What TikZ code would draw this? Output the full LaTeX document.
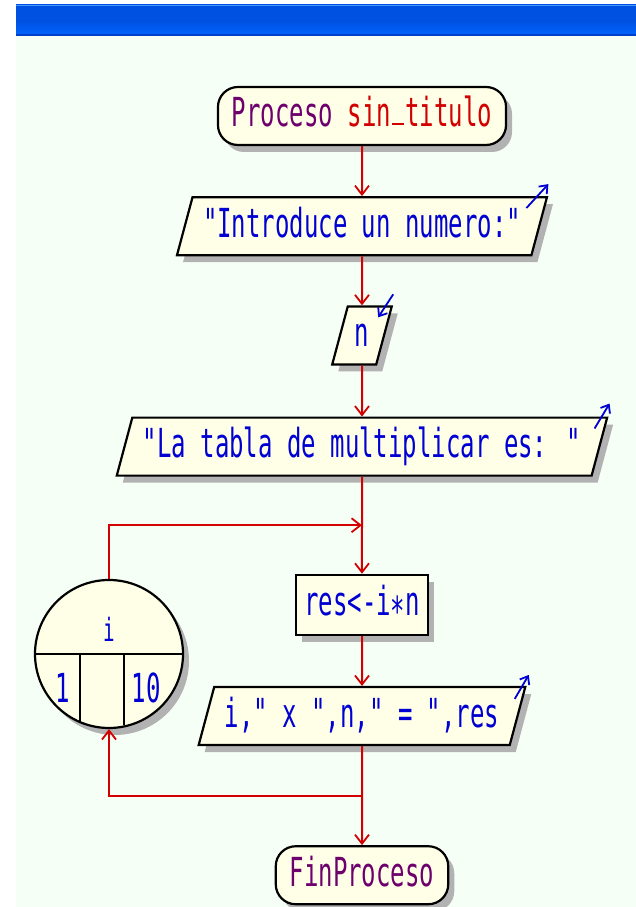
\documentclass[tikz,border=0pt]{standalone}
\usepackage{fontspec}
\usepackage{xcolor}
\usetikzlibrary{positioning, arrows.meta, shapes.geometric, shadows, calc}

\newfontfamily\flowfont[FakeStretch=0.6]{DejaVu Sans Mono}
\newcommand{\lowbar}{\hspace{1pt}\rule[1.5pt]{12pt}{2.5pt}\hspace{1.45pt}}

\definecolor{panelbg}{RGB}{246,255,246}
\definecolor{boxfill}{RGB}{255,255,232}
\definecolor{shadowgray}{RGB}{178,178,178}
\definecolor{flowred}{RGB}{210,0,0}
\definecolor{flowblue}{RGB}{0,0,210}
\definecolor{procpurple}{RGB}{110,0,110}
\definecolor{bardark}{RGB}{0,80,225}
\definecolor{barlight}{RGB}{0,102,255}
\definecolor{baredge}{RGB}{0,64,200}

\begin{document}
\begin{tikzpicture}[x=1pt, y=1pt,
    shapebase/.style={draw, line width=2.2pt, fill=boxfill, text=flowblue,
        font=\flowfont\fontsize{40}{40}\selectfont, text height=29pt, text depth=7pt,
        drop shadow={shadow xshift=6pt, shadow yshift=-7pt, fill=shadowgray, opacity=1}},
    term/.style={shapebase, rectangle, rounded corners=20pt, minimum height=58pt, inner xsep=14pt, inner ysep=0pt},
    io/.style={shapebase, trapezium, trapezium left angle=75, trapezium right angle=105,
        inner xsep=10.5pt, inner ysep=11pt},
    proc/.style={shapebase, rectangle, minimum height=60pt, inner xsep=8pt, inner ysep=0pt},
    loopnode/.style={shapebase, circle, minimum size=148pt, inner sep=0pt},
    lbl/.style={text=flowblue, font=\flowfont\fontsize{40}{40}\selectfont, inner sep=0pt},
    flow/.style={draw=flowred, line width=2pt, -{Straight Barb[length=9pt, width=14pt, line width=1.8pt]}},
    iomark/.style={draw=flowblue, line width=1.8pt, -{Straight Barb[length=7pt, width=11pt]}}
]

\useasboundingbox (0,0) rectangle (636,907);
% window background and title bar
\fill[white] (0,0) rectangle (636,907);
\fill[panelbg] (16,0) rectangle (636,871);
\shade[top color=bardark, bottom color=barlight, middle color=bardark] (16,871) rectangle (636,902);
\fill[barlight!70!white] (16,900.5) rectangle (636,902);
\fill[baredge] (16,871) rectangle (636,873);

\node[term] (start) at (362,791) {\textcolor{procpurple}{Proceso} \textcolor{flowred}{sin\lowbar titulo}};
\node[io, below=50pt of start] (ask) {"Introduce un numero:"};
\node[io, inner xsep=7pt, below=49pt of ask] (readn) {n};
\node[io, below=51pt of readn] (title) {"La tabla de multiplicar es: "};
\node[proc, below=97pt of title] (mult) {res<-i\raisebox{-10pt}{*}n};
\node[io, below=50pt of mult] (show) {i," x ",n," = ",res};
\node[term, text=procpurple, below=99pt of show] (fin) {FinProceso};

% for loop
\node[loopnode] (loop) at (109,253) {};
\node[lbl, anchor=base, font=\flowfont\fontsize{32}{32}\selectfont] (ivar) at (109,265) {i};
\node[lbl, anchor=base] (lo) at (63,204) {1};
\node[lbl, anchor=base] (hi) at (146,204) {10};
\draw[line width=2.2pt] (loop.west) -- (loop.east);
\draw[line width=2.2pt] ($(loop.center)+(-29,0)$) -- ++(0,-67);
\draw[line width=2.2pt] ($(loop.center)+(15,0)$) -- ++(0,-71);

% in/out marks
\draw[iomark] ($(ask.top right corner)+(-22,-12)$) -- ++(22,24);
\draw[iomark] ($(readn.top right corner)+(0,11)$) -- ++(-15,-23);
\draw[iomark] ($(title.top right corner)+(-14,-12)$) -- ++(15,25);
\draw[iomark] ($(show.top right corner)+(-12,-13)$) -- ++(14,24);

\coordinate (join) at ($(title.south)!0.5!(mult.north)$);
\coordinate (back) at ($(show.south)!0.5!(fin.north)$);

\draw[flow] (start) -- (ask);
\draw[flow] (ask) -- (readn);
\draw[flow] (readn) -- (title);
\draw[flow] (title) -- (mult);
\draw[flow] (mult) -- (show);
\draw[flow] (show) -- (fin);
\draw[flow] (loop.north) |- (join);
\draw[flow] (back) -| (loop.south);

\end{tikzpicture}
\end{document}
